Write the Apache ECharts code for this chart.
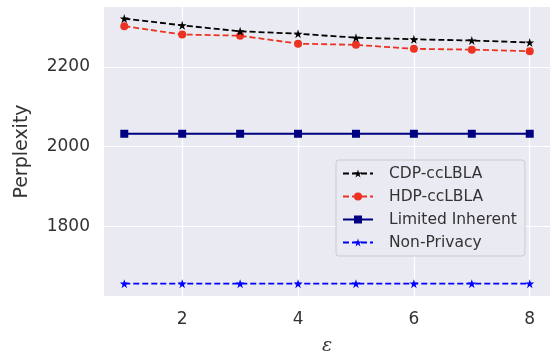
<!DOCTYPE html>
<html>
<head>
<meta charset="utf-8">
<script src="https://cdn.jsdelivr.net/npm/echarts@6/dist/echarts.min.js"></script>
<style>
  html, body { margin: 0; padding: 0; background: #fff; }
  #chart { width: 559px; height: 354px; }
</style>
</head>
<body>
<div id="chart"></div>
<script>
// epsilon values on the x axis
var epsilons = [1, 2, 3, 4, 5, 6, 7, 8];
var xTicks = [2, 4, 6, 8];
var yTicks = [1800, 2000, 2200];

var seriesNames = ['CDP-ccLBLA', 'HDP-ccLBLA', 'Limited Inherent', 'Non-Privacy'];
var cdpValues = [2321, 2304, 2289, 2283, 2273, 2269, 2266, 2261];
var hdpValues = [2302, 2281, 2278, 2258, 2255, 2245, 2243, 2239];
var limitedValues = [2032, 2032, 2032, 2032, 2032, 2032, 2032, 2032];
var nonPrivacyValues = [1656, 1656, 1656, 1656, 1656, 1656, 1656, 1656];

function pairs(vals) {
    return epsilons.map(function (e, i) { return [e, vals[i]]; });
}

var textColor = '#333333';
var star = 'path://M0,-1 L0.2245,-0.309 L0.951,-0.309 L0.363,0.118 L0.588,0.809 L0,0.382 L-0.588,0.809 L-0.363,0.118 L-0.951,-0.309 L-0.2245,-0.309 Z';
var myChart = echarts.init(document.getElementById('chart'));

var option = {
    animation: false,
    backgroundColor: '#ffffff',
    textStyle: { fontFamily: 'DejaVu Sans' },
    grid: {
        left: 104, right: 9, top: 7, bottom: 58,
        outerBoundsMode: 'none',
        show: true, backgroundColor: '#EAEAF2', borderWidth: 0
    },
    xAxis: {
        type: 'value',
        min: 0.65, max: 8.35,
        name: 'ε',
        nameLocation: 'middle',
        nameGap: 41,
        nameTextStyle: { fontSize: 19, fontStyle: 'italic', color: textColor, fontFamily: 'DejaVu Serif' },
        axisLine: { show: false },
        axisTick: { show: false, customValues: xTicks },
        axisLabel: { customValues: xTicks, fontSize: 17, color: textColor, margin: 15 },
        splitLine: { show: true, lineStyle: { color: '#ffffff', width: 1.2 } }
    },
    yAxis: {
        type: 'value',
        min: 1625, max: 2350,
        name: 'Perplexity',
        nameLocation: 'middle',
        nameGap: 72,
        nameTextStyle: { fontSize: 19, color: textColor },
        axisLine: { show: false },
        axisTick: { show: false, customValues: yTicks },
        axisLabel: {
            customValues: yTicks, fontSize: 17, color: textColor, margin: 14,
            formatter: function (v) { return String(v); }
        },
        splitLine: { show: true, lineStyle: { color: '#ffffff', width: 1.2 } }
    },
    legend: {
        orient: 'vertical',
        left: 336, top: 160,
        padding: [5, 8, 5, 6],
        itemWidth: 30, itemHeight: 10,
        itemGap: 6,
        backgroundColor: '#EAEAF2',
        borderColor: '#cccccc', borderWidth: 1, borderRadius: 3,
        textStyle: { fontSize: 15.5, color: textColor, padding: [0, 0, 0, 11], lineHeight: 17 },
        data: seriesNames
    },
    series: [
        {
            name: seriesNames[0], type: 'line', data: pairs(cdpValues),
            symbol: star, symbolSize: 9,
            lineStyle: { color: '#000000', width: 1.8, type: [6, 3] },
            itemStyle: { color: '#000000' },
            z: 4
        },
        {
            name: seriesNames[1], type: 'line', data: pairs(hdpValues),
            symbol: 'circle', symbolSize: 8,
            lineStyle: { color: '#ec3323', width: 1.8, type: [6, 3] },
            itemStyle: { color: '#ec3323' },
            z: 3
        },
        {
            name: seriesNames[2], type: 'line', data: pairs(limitedValues),
            symbol: 'rect', symbolSize: 8,
            lineStyle: { color: '#000080', width: 1.8 },
            itemStyle: { color: '#000080' }
        },
        {
            name: seriesNames[3], type: 'line', data: pairs(nonPrivacyValues),
            symbol: star, symbolSize: 9,
            lineStyle: { color: '#0000ff', width: 1.8, type: [6, 3] },
            itemStyle: { color: '#0000ff' }
        }
    ]
};
myChart.setOption(option);
</script>
</body>
</html>
